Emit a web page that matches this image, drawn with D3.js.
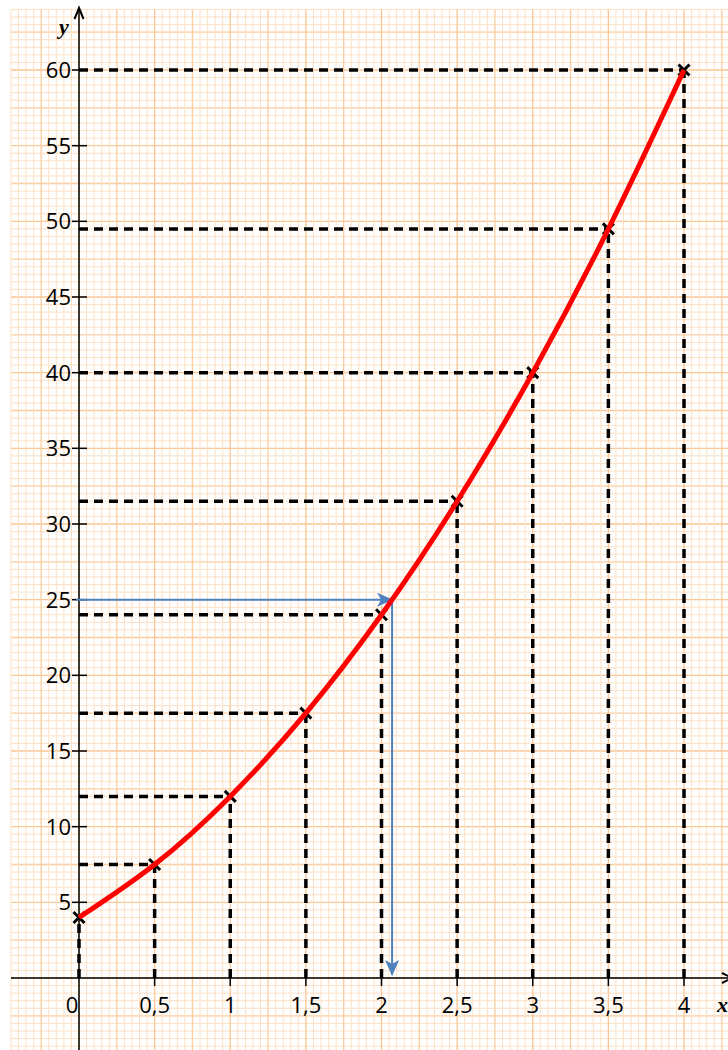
<!DOCTYPE html>
<html>
<head>
  <meta charset="utf-8">
  <style>
    body { margin: 0; background: #fff; }
    svg { display: block; }
  </style>
</head>
<body>

  <script src="https://cdn.jsdelivr.net/npm/d3@7"></script>
  <script type="text/javascript">

  // values
  var xs = [0, 0.5, 1, 1.5, 2, 2.5, 3, 3.5, 4],
      ys = [4, 7.5, 12, 17.5, 24, 31.5, 40, 49.5, 60],
      xTicks = [0, 0.5, 1, 1.5, 2, 2.5, 3, 3.5, 4],
      xTickLabels = ['0', '0,5', '1', '1,5', '2', '2,5', '3', '3,5', '4'],
      yTicks = [5, 10, 15, 20, 25, 30, 35, 40, 45, 50, 55, 60],
      readY = 25,      // the blue reading on the y axis
      readX = 2.07;    // where it meets the curve

  var width = 728,
      height = 1050,
      points = xs.map(function(d, i){ return [d, ys[i]] }),

      x = d3.scaleLinear().domain([0, 4]).range([79, 684]),
      y = d3.scaleLinear().domain([0, 60]).range([978, 70]),

      svg = d3.select('body')
              .append('svg')
              .attr('width', width)
              .attr('height', height);

  var defs = svg.append('defs');

  defs.append('marker')
      .attr('id', 'blue-head')
      .attr('viewBox', '0 0 16 14')
      .attr('refX', 15)
      .attr('refY', 7)
      .attr('markerUnits', 'userSpaceOnUse')
      .attr('markerWidth', 16)
      .attr('markerHeight', 14)
      .attr('orient', 'auto')
    .append('path')
      .attr('d', 'M0,0 L16,7 L0,14 L4,7 Z')
      .attr('fill', '#4f81bd');

  // millimetre paper
  var gridLeft = 11, gridTop = 9.5,
      grid = svg.append('g').attr('class', 'grid');

  function gridColor(i){
    if (i % 10 === 0) return '#fcc593';
    if (i % 5 === 0) return '#fccc9f';
    return '#fde0c4';
  }

  function majorLast(a, b){ return (a % 5 === 0) - (b % 5 === 0) }

  var vIdx = d3.range(-9, 87).sort(majorLast),
      hIdx = d3.range(-10, 129).sort(majorLast)
               .filter(function(i){ return y(i * 0.5) >= gridTop - 0.1 });

  grid.selectAll('line.h')
      .data(hIdx)
      .enter()
      .append('line')
      .attr('class', 'h')
      .attr('y1', function(i){ return y(i * 0.5) })
      .attr('y2', function(i){ return y(i * 0.5) })
      .attr('x1', gridLeft)
      .attr('x2', width)
      .attr('stroke', gridColor)
      .attr('stroke-width', function(i){ return i % 5 === 0 ? 1.3 : 1 });

  grid.selectAll('line.v')
      .data(vIdx)
      .enter()
      .append('line')
      .attr('class', 'v')
      .attr('x1', function(i){ return x(i * 0.05) })
      .attr('x2', function(i){ return x(i * 0.05) })
      .attr('y1', gridTop)
      .attr('y2', height)
      .attr('stroke', gridColor)
      .attr('stroke-width', function(i){ return i % 5 === 0 ? 1.3 : 1 });

  // dashed guides
  var guides = svg.append('g')
      .attr('stroke', '#000')
      .attr('stroke-width', 3.5)
      .attr('stroke-dasharray', '9,6');

  guides.selectAll('line.hg')
      .data(points.filter(function(p){ return p[0] > 0 }))
      .enter()
      .append('line')
      .attr('x1', x(0))
      .attr('y1', function(p){ return y(p[1]) })
      .attr('x2', function(p){ return x(p[0]) })
      .attr('y2', function(p){ return y(p[1]) });

  guides.selectAll('line.vg')
      .data(points)
      .enter()
      .append('line')
      .attr('x1', function(p){ return x(p[0]) })
      .attr('y1', y(0))
      .attr('x2', function(p){ return x(p[0]) })
      .attr('y2', function(p){ return y(p[1]) });

  // axes
  var axes = svg.append('g').attr('stroke', '#000').attr('fill', 'none');

  axes.append('line')
      .attr('x1', gridLeft).attr('x2', width + 5)
      .attr('y1', y(0)).attr('y2', y(0))
      .attr('stroke-width', 1.5);

  axes.append('path')
      .attr('d', 'M' + (width - 6) + ',' + (y(0) - 5) + 'L' + (width + 4) + ',' + y(0) + 'L' + (width - 6) + ',' + (y(0) + 5))
      .attr('stroke-width', 2);

  axes.append('line')
      .attr('x1', x(0)).attr('x2', x(0))
      .attr('y1', height).attr('y2', 8)
      .attr('stroke-width', 1.5);

  axes.append('path')
      .attr('d', 'M' + (x(0) - 4.5) + ',19L' + x(0) + ',8L' + (x(0) + 4.5) + ',19')
      .attr('stroke-width', 2);

  axes.selectAll('line.xt')
      .data(xTicks.slice(1))
      .enter()
      .append('line')
      .attr('x1', function(d){ return x(d) })
      .attr('x2', function(d){ return x(d) })
      .attr('y1', y(0) - 6)
      .attr('y2', y(0) + 8)
      .attr('stroke-width', 1.5);

  axes.selectAll('line.yt')
      .data(yTicks)
      .enter()
      .append('line')
      .attr('x1', x(0) - 7)
      .attr('x2', x(0) + 8)
      .attr('y1', function(d){ return y(d) })
      .attr('y2', function(d){ return y(d) })
      .attr('stroke-width', 1.5);

  var labels = svg.append('g')
      .attr('font-family', '"Open Sans", "Liberation Sans", sans-serif')
      .attr('font-size', 22)
      .attr('fill', '#000');

  labels.selectAll('text.xl')
      .data(xTicks)
      .enter()
      .append('text')
      .attr('x', function(d){ return d === 0 ? x(d) - 7 : x(d) })
      .attr('y', 1013)
      .attr('text-anchor', 'middle')
      .text(function(d, i){ return xTickLabels[i] });

  labels.selectAll('text.yl')
      .data(yTicks)
      .enter()
      .append('text')
      .attr('x', 71)
      .attr('y', function(d){ return y(d) })
      .attr('dy', '0.36em')
      .attr('text-anchor', 'end')
      .text(function(d){ return d });

  svg.append('text')
      .attr('x', 64).attr('y', 34)
      .attr('text-anchor', 'middle')
      .attr('font-family', '"Liberation Serif", "DejaVu Serif", serif')
      .attr('font-style', 'italic')
      .attr('font-weight', 'bold')
      .attr('font-size', 22)
      .text('y');

  svg.append('text')
      .attr('x', 717).attr('y', 1012)
      .attr('font-family', '"Liberation Serif", "DejaVu Serif", serif')
      .attr('font-style', 'italic')
      .attr('font-weight', 'bold')
      .attr('font-size', 22)
      .text('x');

  // blue reading
  var blue = svg.append('g')
      .attr('stroke', '#4f81bd')
      .attr('stroke-width', 2)
      .attr('fill', 'none');

  blue.append('line')
      .attr('x1', x(0) - 3).attr('y1', y(readY))
      .attr('x2', x(readX)).attr('y2', y(readY))
      .attr('marker-end', 'url(#blue-head)');

  blue.append('line')
      .attr('x1', x(readX)).attr('y1', y(readY))
      .attr('x2', x(readX)).attr('y2', y(0) - 3)
      .attr('marker-end', 'url(#blue-head)');

  // crosses at the points
  svg.selectAll('path.cross')
     .data(points)
     .enter()
     .append('path')
     .attr('transform', function(p){ return 'translate(' + x(p[0]) + ',' + y(p[1]) + ')' })
     .attr('d', 'M-5.5,-5.5L5.5,5.5M-5.5,5.5L5.5,-5.5')
     .attr('stroke', '#000')
     .attr('stroke-width', 3);

  // the curve
  svg.append('path')
     .datum(points)
     .attr('d', d3.line()
                  .x(function(p){ return x(p[0]) })
                  .y(function(p){ return y(p[1]) })
                  .curve(d3.curveNatural))
     .attr('fill', 'none')
     .attr('stroke', '#ff0000')
     .attr('stroke-width', 5);

  </script>
</body>
</html>
